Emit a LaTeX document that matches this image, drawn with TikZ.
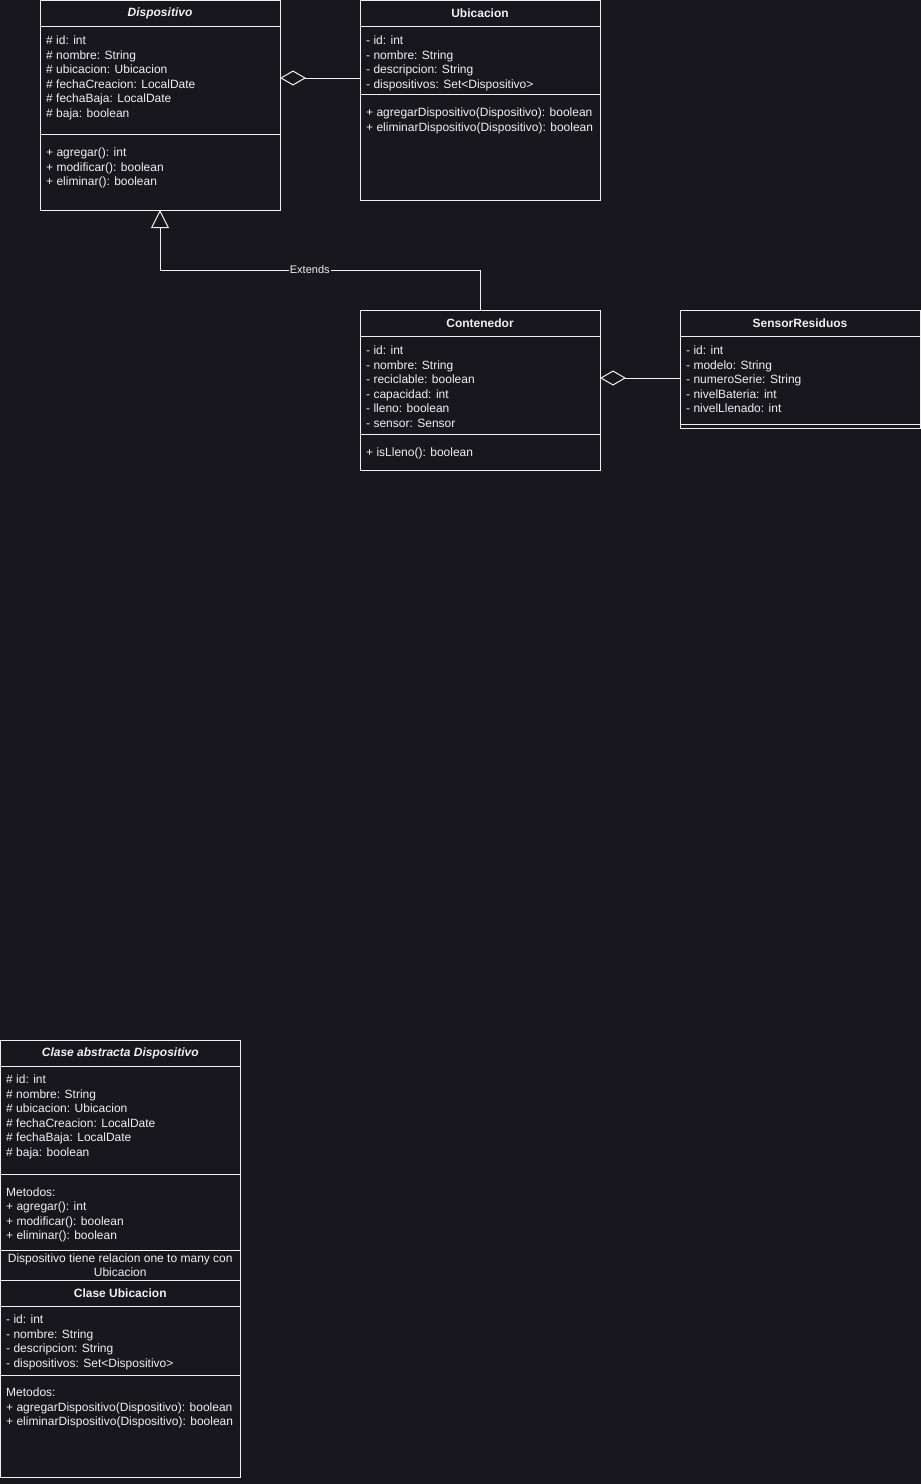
\documentclass[tikz,border=0pt]{standalone}
\usepackage{fontspec}
\setmainfont{Liberation Sans}
\usetikzlibrary{arrows.meta}
\definecolor{bg}{RGB}{24,23,30}
\definecolor{fg}{RGB}{240,240,240}
\tikzset{
  box/.style={draw=fg, line width=1pt, inner sep=0pt, outer sep=0pt, anchor=north west, minimum width=240pt},
  hdr/.style={box, minimum height=26pt, text=fg, font=\fontsize{12}{14}\selectfont\bfseries},
  row/.style={anchor=base west, inner sep=0pt, text=fg, font=\fontsize{12}{14}\selectfont},
  crow/.style={row, anchor=base},
  link/.style={draw=fg, line width=1pt},
  agg/.style={link, -{Diamond[open, length=26pt, width=15pt]}},
  gen/.style={link, -{Triangle[open, length=18pt, width=18pt]}},
  lbl/.style={fill=bg, text=fg, inner sep=1pt, font=\fontsize{11}{13}\selectfont},
}
\newcommand\umlrows[4]{%
  \foreach \t [count=\i from 0] in {#4} \node[row] (#1\i) at (#2, #3+14.5*\i) {\t};}
\begin{document}
\begin{tikzpicture}[x=1pt, y=-1pt]
\fill[bg] (0,0) rectangle (921,1484);
\useasboundingbox (0,0) rectangle (921,1484);

% Dispositivo
\node[hdr, font=\fontsize{12}{14}\selectfont\bfseries\itshape] (disp) at (40,0) {Dispositivo};
\node[box, minimum height=108pt] (dispA) at (40,26) {};
\node[box, minimum height=76pt] (dispM) at (40,134) {};
\umlrows{da}{46}{44.5}{{\# id: int},{\# nombre: String},{\# ubicacion: Ubicacion},{\# fechaCreacion: LocalDate},{\# fechaBaja: LocalDate},{\# baja: boolean}}
\umlrows{dm}{46}{156.5}{{+ agregar(): int},{+ modificar(): boolean},{+ eliminar(): boolean}}

% Ubicacion
\node[hdr] (ubic) at (360,0) {Ubicacion};
\node[box, minimum height=68pt] (ubicA) at (360,26) {};
\node[box, minimum height=106pt] (ubicM) at (360,94) {};
\umlrows{ua}{366}{44.5}{{- id: int},{- nombre: String},{- descripcion: String},{- dispositivos: Set<Dispositivo>}}
\umlrows{um}{366}{116.5}{{+ agregarDispositivo(Dispositivo): boolean},{+ eliminarDispositivo(Dispositivo): boolean}}

% Contenedor
\node[hdr] (cont) at (360,310) {Contenedor};
\node[box, minimum height=98pt] (contA) at (360,336) {};
\node[box, minimum height=36pt] (contM) at (360,434) {};
\umlrows{ca}{366}{354.5}{{- id: int},{- nombre: String},{- reciclable: boolean},{- capacidad: int},{- lleno: boolean},{- sensor: Sensor}}
\umlrows{cm}{366}{456.5}{{+ isLleno(): boolean}}

% SensorResiduos
\node[hdr] (sens) at (680,310) {SensorResiduos};
\node[box, minimum height=88pt] (sensA) at (680,336) {};
\node[box, minimum height=4pt] (sensM) at (680,424) {};
\umlrows{sa}{686}{354.5}{{- id: int},{- modelo: String},{- numeroSerie: String},{- nivelBateria: int},{- nivelLlenado: int}}

% connectors
\coordinate (aggU) at ([yshift=-18pt]ubicA.west);
\draw[agg] (aggU) -- (aggU -| dispA.east);
\coordinate (aggS) at ([yshift=2pt]sensA.west);
\draw[agg] (aggS) -- (aggS -| contA.east);
\draw[gen] (cont.north) -- ++(0,-40) -| node[pos=0.266, lbl] (ext) {Extends} (dispM.south);

% bottom description box
\node[hdr, minimum width=239.5pt, font=\fontsize{12}{14}\selectfont\bfseries\itshape] (bdisp) at (0.5,1040) {Clase abstracta Dispositivo};
\node[box, minimum width=239.5pt, minimum height=108pt] (bdispA) at (0.5,1066) {};
\node[box, minimum width=239.5pt, minimum height=76pt] (bdispM) at (0.5,1174) {};
\node[box, minimum width=239.5pt, minimum height=30pt] (bnote) at (0.5,1250) {};
\node[hdr, minimum width=239.5pt] (bubic) at (0.5,1280) {Clase Ubicacion};
\node[box, minimum width=239.5pt, minimum height=69pt] (bubicA) at (0.5,1306) {};
\node[box, minimum width=239.5pt, minimum height=102pt] (bubicM) at (0.5,1375) {};
\umlrows{bda}{6}{1083.5}{{\# id: int},{\# nombre: String},{\# ubicacion: Ubicacion},{\# fechaCreacion: LocalDate},{\# fechaBaja: LocalDate},{\# baja: boolean}}
\umlrows{bdm}{6}{1196}{{Metodos:},{+ agregar(): int},{+ modificar(): boolean},{+ eliminar(): boolean}}
\node[crow] (bn0) at (120.25,1262) {Dispositivo tiene relacion one to many con};
\node[crow] (bn1) at (120.25,1276.5) {Ubicacion};
\umlrows{bua}{6}{1323.7}{{- id: int},{- nombre: String},{- descripcion: String},{- dispositivos: Set<Dispositivo>}}
\umlrows{bum}{6}{1396.7}{{Metodos:},{+ agregarDispositivo(Dispositivo): boolean},{+ eliminarDispositivo(Dispositivo): boolean}}
\end{tikzpicture}
\end{document}
